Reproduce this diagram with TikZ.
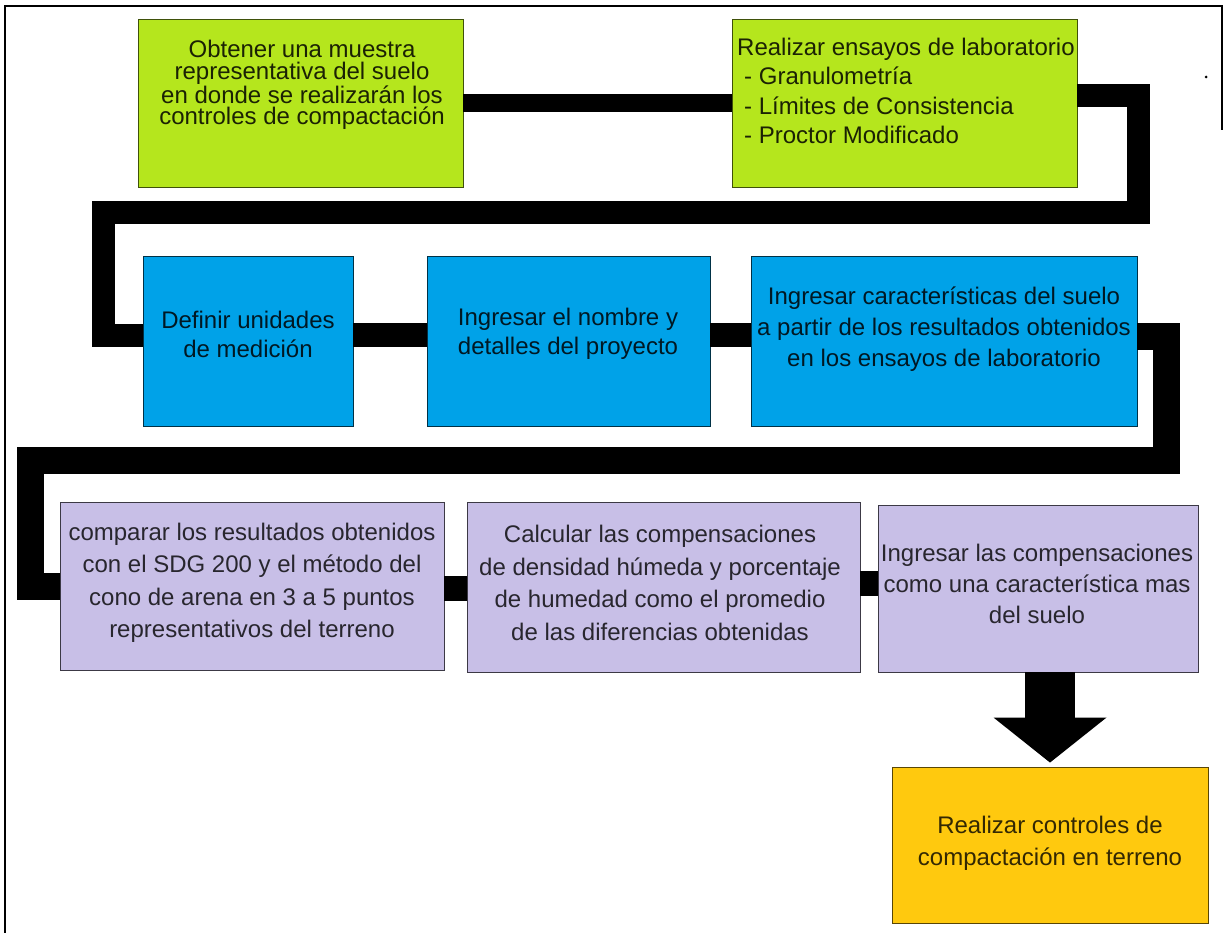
\documentclass[tikz,border=0pt]{standalone}
\usepackage{fontspec}
\setmainfont{Liberation Sans}
\usetikzlibrary{positioning, arrows.meta}
\definecolor{limefill}{RGB}{181,230,29}
\definecolor{skyfill}{RGB}{0,162,232}
\definecolor{lavfill}{RGB}{200,191,231}
\definecolor{goldfill}{RGB}{255,201,14}

\begin{document}
\begin{tikzpicture}[x=1pt, y=-1pt,
		box/.style={rectangle, inner sep=0pt, line width=0.9pt},
		greenbox/.style={box, fill=limefill, draw=limefill!35!black},
		bluebox/.style={box, fill=skyfill, draw=skyfill!30!black},
		purplebox/.style={box, fill=lavfill, draw=lavfill!30!black},
		orangebox/.style={box, fill=goldfill, draw=goldfill!35!black},
		txt/.style={align=center, inner sep=0pt},
		pipe/.style={black, line width=23pt, line join=miter}]
	\useasboundingbox (0,0) rectangle (1225,933);
	\draw[line width=1.5pt] (5,933) -- (5,6) -- (1222,6) -- (1222,130);
	\fill (1206,77) circle (1.5);

	% first row
	\node[greenbox, minimum width=325, minimum height=168] (obtener) at (300.5,103) {};
	\node[greenbox, minimum width=345, minimum height=168] (ensayos) at (904.5,103) {};
	% second row
	\node[bluebox, minimum width=210, minimum height=170] (unidades) at (248,341) {};
	\node[bluebox, minimum width=283, minimum height=170] (proyecto) at (568.5,341) {};
	\node[bluebox, minimum width=386, minimum height=170] (suelo) at (944,341) {};
	% third row
	\node[purplebox, minimum width=384, minimum height=168] (comparar) at (252,586) {};
	\node[purplebox, minimum width=393, minimum height=170] (calcular) at (663.5,587) {};
	\node[purplebox, minimum width=320, minimum height=167] (ingresar) at (1038,588.5) {};
	% last step
	\node[orangebox, minimum width=316, minimum height=156] (controles) at (1050,845) {};

	% texts
	\node[txt, text=limefill!15!black, font=\fontsize{24}{21.7}\selectfont] (obtenertxt) at (302,85)
		{Obtener una muestra\\representativa del suelo\\en donde se realizarán los\\controles de compactación};
	\node[txt, align=left, anchor=west, text=limefill!15!black, font=\fontsize{24}{29.5}\selectfont] (ensayostxt) at (737,91)
		{Realizar ensayos de laboratorio\\\hspace*{7pt}- Granulometría\\\hspace*{7pt}- Límites de Consistencia\\\hspace*{7pt}- Proctor Modificado};
	\node[txt, text=skyfill!15!black, font=\fontsize{24}{29}\selectfont] (unidadestxt) at (248,334)
		{Definir unidades\\de medición};
	\node[txt, text=skyfill!15!black, font=\fontsize{24}{29}\selectfont] (proyectotxt) at (568,334)
		{Ingresar el nombre y\\detalles del proyecto};
	\node[txt, text=skyfill!15!black, font=\fontsize{24}{31}\selectfont] (suelotxt) at (944,329)
		{Ingresar características del suelo\\a partir de los resultados obtenidos\\en los ensayos de laboratorio};
	\node[txt, text=lavfill!20!black, font=\fontsize{24}{32.5}\selectfont] (comparartxt) at (252,583)
		{comparar los resultados obtenidos\\con el SDG 200 y el método del\\cono de arena en 3 a 5 puntos\\representativos del terreno};
	\node[txt, text=lavfill!20!black, font=\fontsize{24}{32.5}\selectfont] (calculartxt) at (660,583)
		{Calcular las compensaciones\\de densidad húmeda y porcentaje\\de humedad como el promedio\\de las diferencias obtenidas};
	\node[txt, text=lavfill!20!black, font=\fontsize{24}{31}\selectfont] (ingresartxt) at (1037,584)
		{Ingresar las compensaciones\\como una característica mas\\del suelo};
	\node[txt, text=goldfill!20!black, font=\fontsize{24}{32}\selectfont] (controlestxt) at (1050,843)
		{Realizar controles de\\compactación en terreno};

	% black pipes
	\coordinate (rA) at (1138,213);
	\coordinate (lA) at (103.5,213);
	\coordinate (rB) at (1166.5,460);
	\coordinate (lB) at (30.5,460);
	\draw[pipe, line width=18pt] (obtener) -- (ensayos);
	\draw[pipe] ([yshift=7.5pt]ensayos.east) -| (rA) -- (lA) |- ([yshift=6pt]unidades.west);
	\draw[pipe, line width=24pt] ([yshift=6pt]unidades.east) -- ([yshift=6pt]proyecto.west);
	\draw[pipe, line width=24pt] ([yshift=6pt]proyecto.east) -- ([yshift=6pt]suelo.west);
	\draw[pipe, line width=27pt] ([yshift=4.5pt]suelo.east) -| (rB) -- (lB) |- (comparar.west);
	\draw[pipe, line width=25pt] ([yshift=-2pt]comparar.east) -- ([yshift=-2pt]comparar.east -| calcular.west);
	\draw[pipe, line width=25pt] ([yshift=4pt]calcular.east) -- ([yshift=4pt]calcular.east -| ingresar.west);
	\draw[line width=50pt, -{Triangle[width=113pt, length=45pt, line width=0pt]}] (ingresar.south -| controles.north) -- ([yshift=4pt]controles.north);
\end{tikzpicture}
\end{document}
